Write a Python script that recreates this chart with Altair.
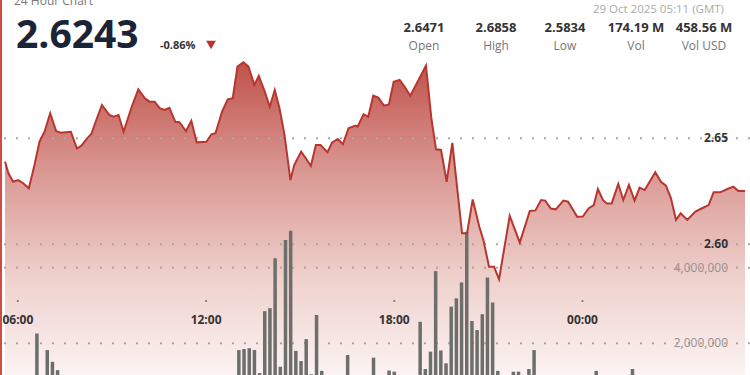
import altair as alt
import pandas as pd

# ---------------- data ----------------
price_hours = [5.59, 5.70, 5.85, 6.01, 6.17, 6.35, 6.53, 6.69, 6.85, 7.03,
               7.22, 7.37, 7.69, 7.88, 8.02, 8.21, 8.34, 8.48, 8.68, 8.92,
               9.05, 9.21, 9.37, 9.63, 9.84, 10.05, 10.20, 10.36, 10.52, 10.68,
               10.83, 11.02, 11.15, 11.36, 11.53, 11.70, 12.01, 12.17, 12.30, 12.51,
               12.69, 12.85, 13.00, 13.19, 13.35, 13.54, 13.68, 13.87, 14.03, 14.19,
               14.34, 14.50, 14.69, 14.81, 15.03, 15.18, 15.34, 15.50, 15.65, 15.87,
               16.02, 16.20, 16.36, 16.54, 16.76, 16.83, 17.02, 17.17, 17.33, 17.49,
               17.67, 17.83, 17.98, 18.17, 18.33, 18.51, 19.01, 19.18, 19.33, 19.49,
               19.67, 19.85, 20.16, 20.32, 20.50, 20.71, 20.84, 21.02, 21.18, 21.34,
               21.68, 22.00, 22.32, 22.50, 22.68, 22.81, 22.99, 23.15, 23.39, 23.54,
               23.83, 24.01, 24.20, 24.36, 24.49, 24.65, 24.77, 24.93, 25.14, 25.30,
               25.48, 25.66, 25.82, 25.98, 26.14, 26.32, 26.50, 26.66, 26.82, 26.98,
               27.13, 27.34, 27.60, 27.81, 28.02, 28.18, 28.39, 28.62, 28.81, 28.97,
               29.18]
price_values = [2.6390, 2.6335, 2.6295, 2.6303, 2.6288, 2.6264, 2.6374, 2.6484, 2.6531, 2.6618,
                2.6534, 2.6526, 2.6531, 2.6453, 2.6464, 2.6500, 2.6520, 2.6578, 2.6657, 2.6610,
                2.6602, 2.6610, 2.6531, 2.6649, 2.6731, 2.6689, 2.6673, 2.6673, 2.6642, 2.6634,
                2.6644, 2.6578, 2.6576, 2.6534, 2.6583, 2.6481, 2.6484, 2.6519, 2.6524, 2.6626,
                2.6684, 2.6689, 2.6838, 2.6859, 2.6838, 2.6752, 2.6795, 2.6720, 2.6649, 2.6728,
                2.6642, 2.6516, 2.6303, 2.6374, 2.6437, 2.6406, 2.6369, 2.6468, 2.6468, 2.6434,
                2.6481, 2.6497, 2.6472, 2.6547, 2.6560, 2.6555, 2.6613, 2.6602, 2.6701, 2.6692,
                2.6654, 2.6660, 2.6767, 2.6775, 2.6743, 2.6701, 2.6843, 2.6596, 2.6448, 2.6445,
                2.6295, 2.6478, 2.6052, 2.6052, 2.6212, 2.6083, 2.6020, 2.5894, 2.5894, 2.5835,
                2.6134, 2.6008, 2.6157, 2.6160, 2.6209, 2.6206, 2.6169, 2.6165, 2.6206, 2.6201,
                2.6130, 2.6131, 2.6170, 2.6185, 2.6261, 2.6209, 2.6193, 2.6193, 2.6285, 2.6209,
                2.6280, 2.6206, 2.6267, 2.6256, 2.6295, 2.6340, 2.6295, 2.6277, 2.6217, 2.6115,
                2.6146, 2.6115, 2.6154, 2.6170, 2.6185, 2.6245, 2.6245, 2.6261, 2.6272, 2.6251,
                2.6251]

bar_hours = [6.607, 6.937, 7.102, 7.267, 13.045, 13.210, 13.376, 13.541, 13.706, 13.871,
             14.036, 14.201, 14.366, 14.532, 14.697, 14.862, 15.027, 15.192, 15.357, 15.522,
             15.687, 16.513, 17.338, 17.834, 17.998, 18.824, 18.989, 19.154, 19.319, 19.484,
             19.649, 19.814, 19.979, 20.144, 20.310, 20.475, 20.640, 20.805, 20.970, 21.135,
             21.300, 21.796, 21.961, 22.291, 22.456, 24.437, 25.593]
bar_volumes = [2260000, 1820000, 1510000, 1290000, 1820000, 1850000, 1870000, 1820000, 1210000, 2850000,
               2930000, 4250000, 1380000, 4730000, 4980000, 1800000, 1530000, 2110000, 1180000, 2750000,
               1270000, 1690000, 1620000, 1280000, 1250000, 2570000, 1320000, 1780000, 3910000, 1810000,
               1470000, 2970000, 3190000, 3610000, 4950000, 2590000, 2350000, 2770000, 3740000, 3080000,
               1270000, 1250000, 1250000, 1320000, 1820000, 1270000, 1320000]

price_ticks = [2.60, 2.65]
volume_ticks = [2000000, 4000000]
time_ticks = [6, 12, 18, 24]
time_labels = ["06:00", "12:00", "18:00", "00:00"]

last_price = "2.6243"
change_text = "-0.86%"
date_text = "29 Oct 2025 05:11 (GMT)"
chart_title = "24 Hour Chart"
stat_values = ["2.6471", "2.6858", "2.5834", "174.19 M", "458.56 M"]
stat_labels = ["Open", "High", "Low", "Vol", "Vol USD"]

# ---------------- tables ----------------
price_df = pd.DataFrame({"h": price_hours, "p": price_values})
bar_df = pd.DataFrame({"h": bar_hours, "v": bar_volumes})
pgrid_df = pd.DataFrame({"p": price_ticks})
vgrid_df = pd.DataFrame({"v": volume_ticks})
time_df = pd.DataFrame({"h": time_ticks, "label": time_labels})
one = pd.DataFrame({"k": [0]})

W, H = 750, 375
FONT = "Open Sans"
P_MIN, P_MAX = 2.53835, 2.71524
V_MIN, V_MAX = 1161400, 11082000

xs = alt.Scale(domain=[5.59, 29.18], nice=False, zero=False)
ps = alt.Scale(domain=[P_MIN, P_MAX], nice=False, zero=False)
vs = alt.Scale(domain=[V_MIN, V_MAX], nice=False, zero=False)

X = alt.X("h:Q", scale=xs, axis=None)

area = alt.Chart(price_df).mark_area(
    clip=True,
    color=alt.Gradient(
        gradient="linear",
        stops=[
            alt.GradientStop(color="#c0524b", offset=0),
            alt.GradientStop(color="#da9893", offset=0.35),
            alt.GradientStop(color="#efd2ce", offset=0.7),
            alt.GradientStop(color="#fbf3f2", offset=1),
        ],
        x1=1, x2=1, y1=0, y2=1,
    ),
).encode(x=X, y=alt.Y("p:Q", scale=ps, axis=None), y2=alt.datum(P_MIN))

grid_style = dict(color="#a9a9a9", strokeWidth=2, strokeDash=[2, 10], strokeDashOffset=-4)

pgrid = alt.Chart(pgrid_df).mark_rule(**grid_style).encode(
    y=alt.Y("p:Q", scale=ps, axis=None), x=alt.value(0), x2=alt.value(W))
vgrid = alt.Chart(vgrid_df).mark_rule(**grid_style).encode(
    y=alt.Y("v:Q", scale=vs, axis=None), x=alt.value(0), x2=alt.value(W))

bars = alt.Chart(bar_df).mark_bar(size=3.5, color="#6e6e6a", clip=True).encode(
    x=X, y=alt.Y("v:Q", scale=vs, axis=None), y2=alt.datum(V_MIN))

line = alt.Chart(price_df).mark_line(color="#b8362f", strokeWidth=2, clip=True).encode(
    x=X, y=alt.Y("p:Q", scale=ps, axis=None))

plabels = alt.Chart(pgrid_df).mark_text(
    align="right", baseline="middle", font=FONT, fontSize=12, fontWeight="bold", color="#333333"
).encode(y=alt.Y("p:Q", scale=ps, axis=None), x=alt.value(728), text=alt.Text("p:Q", format=".2f"))
vlabels = alt.Chart(vgrid_df).mark_text(
    align="right", baseline="middle", font=FONT, fontSize=12, color="#9a9090"
).encode(y=alt.Y("v:Q", scale=vs, axis=None), x=alt.value(728), text=alt.Text("v:Q", format=",.0f"))

tdots = alt.Chart(time_df).mark_circle(size=5, color="#777777", opacity=1).encode(
    x=X, y=alt.value(301))
tlabels = alt.Chart(time_df).mark_text(
    align="center", baseline="middle", font=FONT, fontSize=12, fontWeight="bold", color="#333333"
).encode(x=X, y=alt.value(320), text="label:N")

border = alt.Chart(one).mark_rule(color="#d24b45", strokeWidth=2).encode(
    x=alt.value(1), y=alt.value(0), y2=alt.value(H))


def txt(s, x, y, size, color, weight="normal", align="left", baseline="middle"):
    return alt.Chart(one).mark_text(
        text=s, font=FONT, fontSize=size, fontWeight=weight, color=color,
        align=align, baseline=baseline,
    ).encode(x=alt.value(x), y=alt.value(y))


header = [
    txt(chart_title, 14, 5, 12, "#777777", baseline="alphabetic"),
    txt(last_price, 16, 48, 39, "#1b2336", "bold", baseline="alphabetic"),
    txt(change_text, 160, 46, 11, "#333333", "bold"),
    txt(date_text, 724, 10, 11.5, "#aaaaaa", align="right"),
]
tri = alt.Chart(one).mark_point(shape="triangle-down", filled=True, size=95,
                                color="#c0302a", opacity=1).encode(
    x=alt.value(211), y=alt.value(45))

centers = [424, 496, 565, 636, 704]
stats = []
for val, lab, cx in zip(stat_values, stat_labels, centers):
    stats.append(txt(val, cx, 28, 13, "#333333", "bold", align="center"))
    stats.append(txt(lab, cx, 46, 12, "#777777", align="center"))

chart = alt.layer(
    area, pgrid, vgrid, bars, line, plabels, vlabels, tdots, tlabels, border,
    *header, tri, *stats
).resolve_scale(y="independent").properties(
    width=W, height=H, padding=0, autosize=alt.AutoSizeParams(type="none"),
    background="white",
).configure_view(strokeWidth=0)

chart.save("out.html", embed_options={"renderer": "svg", "actions": False})
